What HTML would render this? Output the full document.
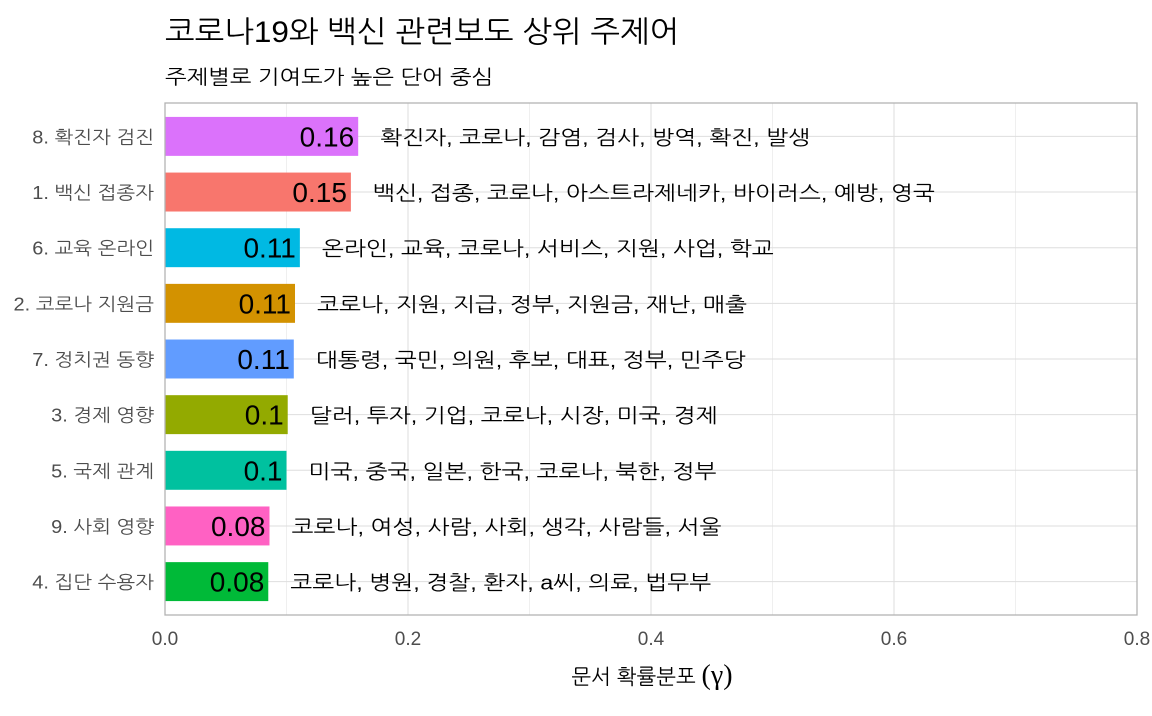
<!DOCTYPE html>
<html><head><meta charset="utf-8">
<style>
body{margin:0;background:#fff;}
svg text{font-family:"Liberation Sans","NanumGothic","Noto Sans CJK KR",sans-serif;}
</style></head>
<body>
<svg id="chart" width="1152" height="711" xmlns="http://www.w3.org/2000/svg">
<text id="ttl" x="165" y="42" font-size="30" fill="#000">코로나19와 백신 관련보도 상위 주제어</text>
<text id="sub" x="165" y="84" font-size="20" fill="#000">주제별로 기여도가 높은 단어 중심</text>
<g id="plot"></g>
<text id="xt" x="652" y="684" font-size="21" text-anchor="middle" fill="#000">문서 확률분포 <tspan font-family="Liberation Serif,serif" font-size="28">(γ)</tspan></text>
</svg>
<script>
const categories=["8. 확진자 검진","1. 백신 접종자","6. 교육 온라인","2. 코로나 지원금","7. 정치권 동향","3. 경제 영향","5. 국제 관계","9. 사회 영향","4. 집단 수용자"];
const values=[0.159,0.153,0.111,0.107,0.106,0.101,0.100,0.086,0.085];
const valueLabels=["0.16","0.15","0.11","0.11","0.11","0.1","0.1","0.08","0.08"];
const terms=["확진자, 코로나, 감염, 검사, 방역, 확진, 발생","백신, 접종, 코로나, 아스트라제네카, 바이러스, 예방, 영국","온라인, 교육, 코로나, 서비스, 지원, 사업, 학교","코로나, 지원, 지급, 정부, 지원금, 재난, 매출","대통령, 국민, 의원, 후보, 대표, 정부, 민주당","달러, 투자, 기업, 코로나, 시장, 미국, 경제","미국, 중국, 일본, 한국, 코로나, 북한, 정부","코로나, 여성, 사람, 사회, 생각, 사람들, 서울","코로나, 병원, 경찰, 환자, a씨, 의료, 법무부"];
const colors=["#DB72FB","#F8766D","#00B9E3","#D39200","#619CFF","#93AA00","#00C19F","#FF61C3","#00BA38"];
const xTicks=[0,0.2,0.4,0.6,0.8];
const xTickLabels=["0.0","0.2","0.4","0.6","0.8"];
const xMinor=[0.1,0.3,0.5,0.7];

const L=165,R=1137,T=103,B=615;
const NS="http://www.w3.org/2000/svg";
const g=document.getElementById('plot');
const xs=v=>L+(v/0.8)*(R-L);
const step=(B-T)/(categories.length-1+1.2);
const ys=i=>T+(0.6+i)*step;
function el(tag,a,p){const e=document.createElementNS(NS,tag);for(const k in a)e.setAttribute(k,a[k]);(p||g).appendChild(e);return e;}
function stretch(t,f){const c=t.getComputedTextLength();if(c>0){t.setAttribute('textLength',c*f);t.setAttribute('lengthAdjust','spacingAndGlyphs');}}
xMinor.forEach(v=>{const l=el('line',{x1:xs(v),x2:xs(v),y1:T,y2:B,stroke:'#ebebeb','stroke-width':0.8});

});
xTicks.forEach((v,i)=>{const l=el('line',{x1:xs(v),x2:xs(v),y1:T,y2:B,stroke:'#dedede','stroke-width':1});


const t=el('text',{x:xs(v),y:B+30,'font-size':19,fill:'#4d4d4d','text-anchor':'middle'});t.textContent=xTickLabels[i];

});
categories.forEach((c,i)=>{const y=ys(i);
const l=el('line',{x1:L,x2:R,y1:y,y2:y,stroke:'#dedede','stroke-width':1});

});
const bh=step*0.7;
categories.forEach((c,i)=>{const y=ys(i);
const r=el('rect',{x:L,y:y-bh/2,width:xs(values[i])-L,height:bh,fill:colors[i]});


const v=el('text',{x:xs(values[i])-4,y:y+10,'font-size':28,'text-anchor':'end',fill:'#000'});v.textContent=valueLabels[i];


const w=el('text',{x:xs(values[i])+22,y:y+8,'font-size':20,fill:'#000'});w.textContent=terms[i];


stretch(w,1.17);
const yl=el('text',{x:L-11,y:y+7,'font-size':18,'text-anchor':'end',fill:'#4d4d4d'});yl.textContent=c;


stretch(yl,1.11);});
stretch(document.getElementById('ttl'),1.05);
stretch(document.getElementById('sub'),1.15);
const bd=el('rect',{x:L,y:T,width:R-L,height:B-T,fill:'none',stroke:'#b3b3b3','stroke-width':1.3});


</script>
</body></html>
